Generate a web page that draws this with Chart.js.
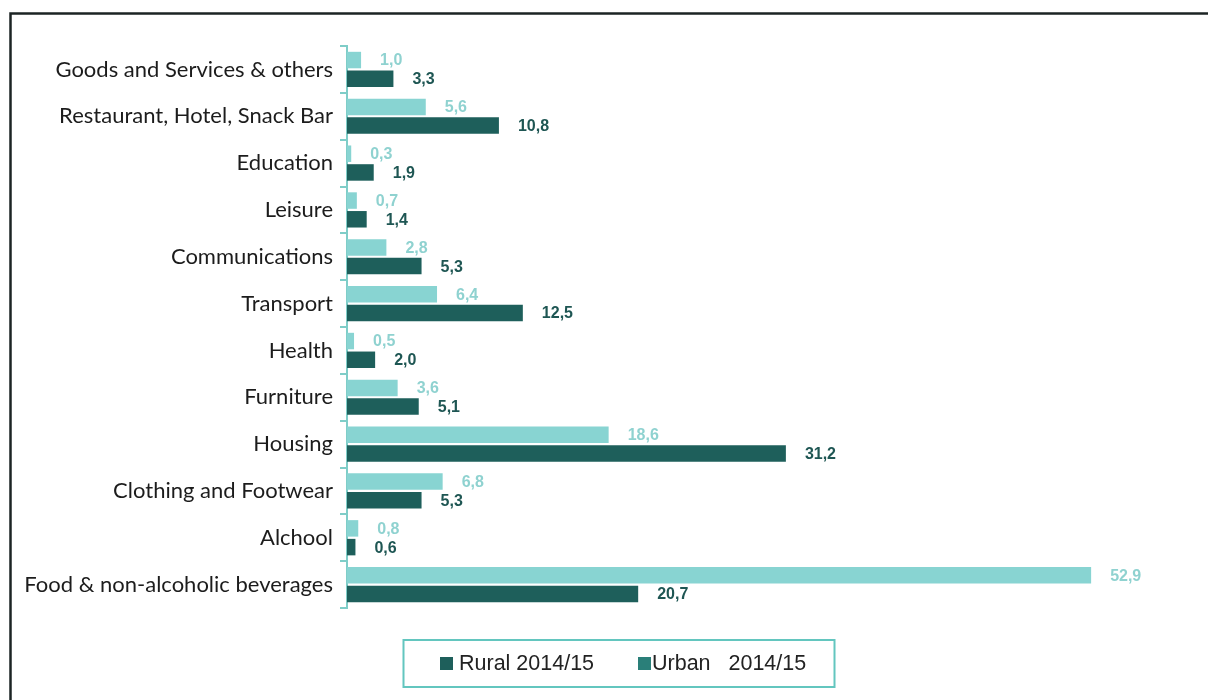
<!DOCTYPE html>
<html>
<head>
<meta charset="utf-8">
<script src="https://cdn.jsdelivr.net/npm/chart.js@4.4.1/dist/chart.umd.min.js"></script>
<style>
  html, body { margin: 0; padding: 0; background: #ffffff; }
  #wrap { width: 1208px; height: 700px; position: relative; }
</style>
</head>
<body>
<div id="wrap"><canvas id="c" width="1208" height="700"></canvas></div>
<script>
// Household expenditure shares (%) by category, 2014/15
const categories = [
  'Goods and Services & others',
  'Restaurant, Hotel, Snack Bar',
  'Education',
  'Leisure',
  'Communications',
  'Transport',
  'Health',
  'Furniture',
  'Housing',
  'Clothing and Footwear',
  'Alchool',
  'Food & non-alcoholic beverages'
];
const urbanValues = [1.0, 5.6, 0.3, 0.7, 2.8, 6.4, 0.5, 3.6, 18.6, 6.8, 0.8, 52.9];
const ruralValues = [3.3, 10.8, 1.9, 1.4, 5.3, 12.5, 2.0, 5.1, 31.2, 5.3, 0.6, 20.7];
const urbanName = 'Urban   2014/15';
const ruralName = 'Rural 2014/15';

const URBAN_BAR = '#88d4d2';
const URBAN_TEXT = '#8fd2d0';
const URBAN_KEY = '#2a7f79';
const RURAL_BAR = '#1e5f5b';
const RURAL_TEXT = '#1e5653';
const AXIS_TEAL = '#7fcdc8';

const fmt = v => v.toFixed(1).replace('.', ',');

// Outer frame (left and top edges)
const framePlugin = {
  id: 'frame',
  beforeDraw(chart) {
    const ctx = chart.ctx;
    ctx.save();
    ctx.fillStyle = '#ffffff';
    ctx.fillRect(0, 0, chart.width, chart.height);
    ctx.strokeStyle = '#1c2424';
    ctx.lineWidth = 2.5;
    ctx.beginPath();
    ctx.moveTo(10.5, chart.height);
    ctx.lineTo(10.5, 13.5);
    ctx.lineTo(chart.width, 13.5);
    ctx.stroke();
    ctx.restore();
  }
};

// Value labels to the right of each bar
const valueLabels = {
  id: 'valueLabels',
  afterDatasetsDraw(chart) {
    const ctx = chart.ctx;
    ctx.save();
    ctx.font = 'bold 16px "Liberation Sans", Arial, sans-serif';
    ctx.textAlign = 'left';
    ctx.textBaseline = 'middle';
    chart.data.datasets.forEach((ds, di) => {
      const meta = chart.getDatasetMeta(di);
      ctx.fillStyle = ds.labelColor;
      meta.data.forEach((bar, i) => {
        ctx.fillText(fmt(ds.data[i]), bar.x + 19, bar.y + 1);
      });
    });
    ctx.restore();
  }
};

// Boxed legend under the plot
const boxedLegend = {
  id: 'boxedLegend',
  afterDraw(chart) {
    const ctx = chart.ctx;
    ctx.save();
    ctx.strokeStyle = '#63c6bf';
    ctx.lineWidth = 2;
    ctx.strokeRect(403.5, 640, 431, 47);
    const items = [
      { text: ruralName, key: RURAL_BAR, x: 440, tx: 459 },
      { text: urbanName, key: URBAN_KEY, x: 638, tx: 652 }
    ];
    ctx.font = '21.5px "Liberation Sans", Arial, sans-serif';
    ctx.textBaseline = 'middle';
    ctx.textAlign = 'left';
    items.forEach(it => {
      ctx.fillStyle = it.key;
      ctx.fillRect(it.x, 657, 13, 13);
      ctx.fillStyle = '#222222';
      ctx.fillText(it.text, it.tx, 664);
    });
    ctx.restore();
  }
};

new Chart(document.getElementById('c'), {
  type: 'bar',
  data: {
    labels: categories,
    datasets: [
      { label: urbanName, data: urbanValues, backgroundColor: URBAN_BAR, labelColor: URBAN_TEXT,
        categoryPercentage: 0.8, barPercentage: 0.88 },
      { label: ruralName, data: ruralValues, backgroundColor: RURAL_BAR, labelColor: RURAL_TEXT,
        categoryPercentage: 0.8, barPercentage: 0.88 }
    ]
  },
  options: {
    indexAxis: 'y',
    responsive: false,
    animation: false,
    layout: { padding: { top: 46, bottom: 92, left: 0, right: 17 } },
    plugins: {
      legend: { display: false },
      tooltip: { enabled: false }
    },
    scales: {
      x: { display: false, min: 0, max: 60 },
      y: {
        afterFit(scale) { scale.width = 347; },
        border: { display: true, color: AXIS_TEAL, width: 2 },
        grid: { drawOnChartArea: false, drawTicks: true, tickLength: 7, color: AXIS_TEAL, lineWidth: 2 },
        ticks: {
          padding: 7,
          color: '#1c1c1c',
          font: { family: 'Lato, "Open Sans", sans-serif', size: 22 }
        }
      }
    }
  },
  plugins: [framePlugin, valueLabels, boxedLegend]
});
</script>
</body>
</html>
